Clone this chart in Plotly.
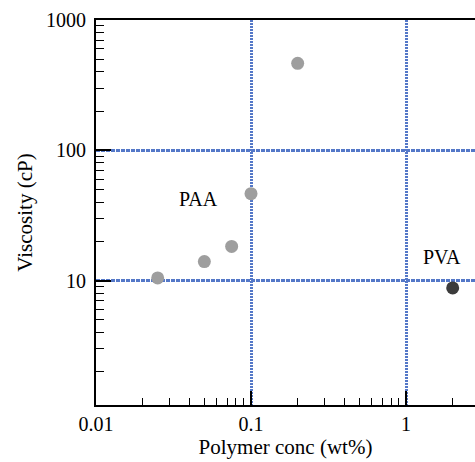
import numpy as np
import plotly.graph_objects as go

# Data
paa_conc = [0.025, 0.05, 0.075, 0.1, 0.2]
paa_visc = [10.5, 14.0, 18.3, 46.5, 465.0]
pva_conc = [2.0]
pva_visc = [8.8]

labels = ["PAA", "PVA"]
label_x = [0.046, 1.71]
label_y = [42.6, 15.3]

x_ticks = [0.01, 0.1, 1]
x_ticktext = ["0.01", "0.1", "1"]
y_ticks = [10, 100, 1000]
y_ticktext = ["10", "100", "1000"]

minor_x = [k * 10.0 ** p for p in (-2, -1, 0) for k in range(2, 10)]
minor_y = [k * 10.0 ** p for p in (0, 1, 2) for k in range(2, 10)]

FONT = "Liberation Serif"
GRID = "#5478c8"

fig = go.Figure()
fig.add_trace(go.Scatter(x=paa_conc, y=paa_visc, mode="markers",
                         marker=dict(size=13, color="#9e9e9e"), name="PAA"))
fig.add_trace(go.Scatter(x=pva_conc, y=pva_visc, mode="markers",
                         marker=dict(size=13, color="#3c3c3c"), name="PVA"))

for t, lx, ly in zip(labels, label_x, label_y):
    fig.add_annotation(x=np.log10(lx), y=np.log10(ly), text=t, showarrow=False,
                       xref="x", yref="y", font=dict(family=FONT, size=20, color="black"))

fig.update_layout(
    width=475, height=462,
    margin=dict(l=96, r=0, t=20, b=57),
    paper_bgcolor="white", plot_bgcolor="white",
    showlegend=False,
    font=dict(family=FONT, size=20, color="black"),
)
fig.update_xaxes(
    type="log", range=[-2, 0.445],
    tickvals=x_ticks, ticktext=x_ticktext,
    ticks="inside", ticklen=14, tickwidth=1.5, tickcolor="black",
    showline=True, linecolor="black", linewidth=2, mirror=True,
    showgrid=True, gridcolor=GRID, gridwidth=3, griddash="2px,1px",
    minor=dict(tickvals=minor_x, ticks="inside", ticklen=7, tickcolor="black", tickwidth=1.2, showgrid=False),
    ticklabelstandoff=0,
    title=dict(text="Polymer conc (wt%)", font=dict(family=FONT, size=21), standoff=2),
    zeroline=False,
)
fig.update_yaxes(
    type="log", range=[0.046, 3.0],
    tickvals=y_ticks, ticktext=y_ticktext,
    ticks="inside", ticklen=15, tickwidth=1.5, tickcolor="black",
    showline=True, linecolor="black", linewidth=2, mirror=False,
    showgrid=True, gridcolor=GRID, gridwidth=2.5, griddash="4px,1px",
    minor=dict(tickvals=minor_y, ticks="inside", ticklen=8, tickcolor="black", tickwidth=1.2, showgrid=False),
    ticklabelstandoff=4,
    title=dict(text="Viscosity (cP)", font=dict(family=FONT, size=21), standoff=8),
    zeroline=False,
)

fig.write_html("out.html")
